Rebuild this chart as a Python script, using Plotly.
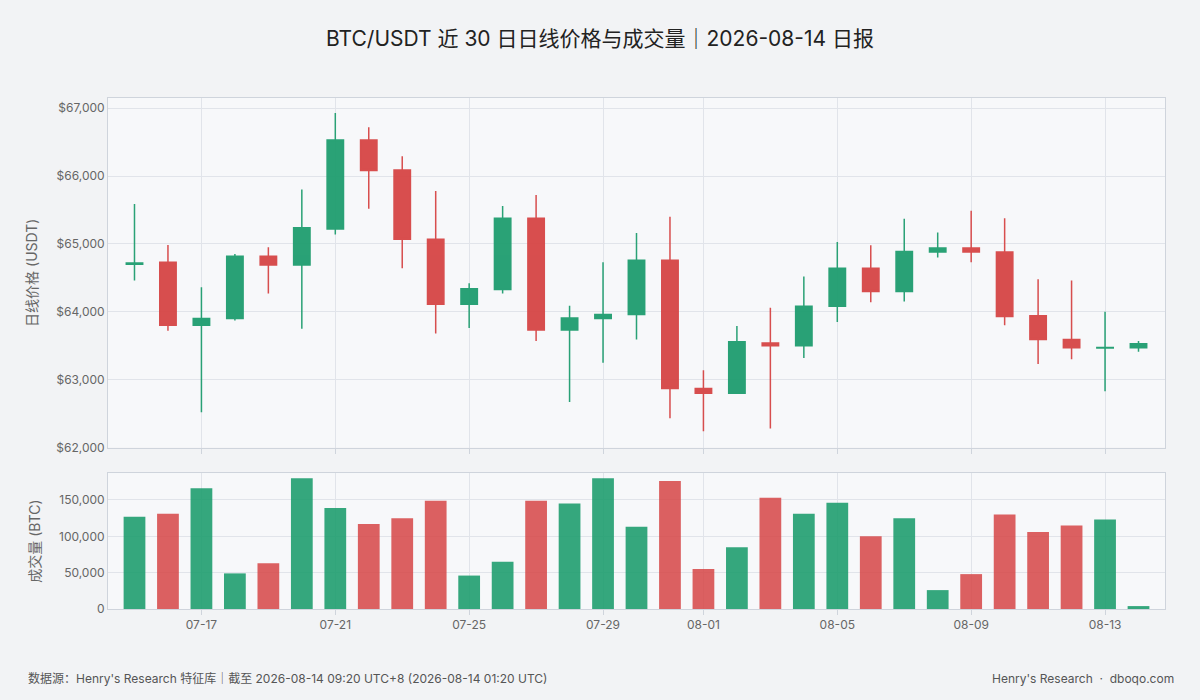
import pandas as pd
import plotly.graph_objects as go
from plotly.subplots import make_subplots

dates = pd.date_range("2026-07-15", "2026-08-14", freq="D")
opens = [64700, 64730, 63800, 63900, 64820, 64690, 65220, 66530, 66090, 65070, 64110, 64330, 65380, 63730, 63900, 63960,
         64760, 62870, 62800, 63540, 63500, 64080, 64640, 64300, 64880, 64940, 64880, 63940, 63590, 63465, 63470]
highs = [65590, 64985, 64360, 64850, 64950, 65800, 66930, 66720, 66290, 65780, 64420, 65560, 65720, 64090, 64730, 65160,
         65400, 63140, 63790, 64060, 64520, 65030, 64980, 65370, 65170, 65490, 65380, 64480, 64460, 64000, 63570]
lows = [64460, 63720, 62520, 63870, 64270, 63750, 65140, 65520, 64640, 63680, 63760, 64270, 63570, 62670, 63250, 63590,
        62430, 62240, 62800, 62280, 63320, 63850, 64140, 64150, 64800, 64730, 63800, 63230, 63300, 62830, 63410]
closes = [64720, 63800, 63900, 64820, 64690, 65240, 66530, 66080, 65070, 64110, 64340, 65380, 63730, 63910, 63960, 64760,
          62870, 62800, 63560, 63500, 64080, 64640, 64300, 64890, 64940, 64880, 63930, 63590, 63470, 63475, 63530]
volumes = [127000, 131000, 166000, 49000, 63000, 180000, 139000, 117000, 125000, 149000, 46000, 65000, 149000, 145000, 180000, 113000,
           176000, 55000, 85000, 153000, 131000, 146000, 100000, 125000, 26000, 48000, 130000, 106000, 115000, 123000, 4000]
tick_dates = ["2026-07-17", "2026-07-21", "2026-07-25", "2026-07-29", "2026-08-01", "2026-08-05", "2026-08-09", "2026-08-13"]

GREEN = "#1f9d6f"
RED = "#d64545"
vol_colors = ["rgba(31,157,111,0.9)" if c >= o else "rgba(214,69,69,0.85)" for o, c in zip(opens, closes)]

fig = make_subplots(rows=2, cols=1, shared_xaxes=True, row_heights=[0.72, 0.28], vertical_spacing=0.05)
fig.add_trace(go.Candlestick(x=dates, open=opens, high=highs, low=lows, close=closes,
                             increasing=dict(line=dict(color=GREEN, width=1.5), fillcolor=GREEN),
                             decreasing=dict(line=dict(color=RED, width=1.5), fillcolor=RED),
                             opacity=0.95, showlegend=False), row=1, col=1)
fig.add_trace(go.Bar(x=dates, y=volumes, marker=dict(color=vol_colors, line=dict(width=0)), width=0.65 * 86400000,
                     showlegend=False), row=2, col=1)

grid = "#e1e4ea"
fig.update_layout(
    width=1200, height=700,
    paper_bgcolor="#f2f3f5", plot_bgcolor="#f7f8fa",
    font=dict(family="Inter, Noto Sans CJK SC, sans-serif", color="#666", size=12),
    title=dict(text="BTC/USDT 近 30 日日线价格与成交量｜2026-08-14 日报", x=0.5, y=0.955,
               font=dict(size=21, color="#222")),
    margin=dict(l=108, r=35, t=98, b=91),
    xaxis_rangeslider_visible=False,
    annotations=[
        dict(text="数据源：Henry's Research 特征库｜截至 2026-08-14 09:20 UTC+8 (2026-08-14 01:20 UTC)",
             xref="paper", yref="paper", x=-0.078, y=-0.155, xanchor="left", showarrow=False,
             font=dict(size=12, color="#555")),
        dict(text="Henry's Research  ·  dboqo.com", xref="paper", yref="paper", x=1.01, y=-0.155,
             xanchor="right", showarrow=False, font=dict(size=12, color="#555")),
    ],
)
for r in (1, 2):
    fig.update_xaxes(row=r, col=1, showgrid=True, gridcolor=grid, showline=True, linecolor="#cfd4dc", mirror=True,
                     ticks="outside", tickcolor="#cfd4dc", tickformat="%m-%d", tickvals=tick_dates,
                     range=["2026-07-14 05:00", "2026-08-14 19:00"])
fig.update_xaxes(row=1, col=1, showticklabels=False)
fig.update_yaxes(row=1, col=1, title_text="日线价格 (USDT)", range=[62000, 67150], tickprefix="$", tickformat=",",
                 dtick=1000, gridcolor=grid, showline=True, linecolor="#cfd4dc", mirror=True, zeroline=False)
fig.update_yaxes(row=2, col=1, title_text="成交量 (BTC)", range=[0, 187000], tickformat=",", dtick=50000,
                 gridcolor=grid, showline=True, linecolor="#cfd4dc", mirror=True, zeroline=False)
fig.write_html("out.html", config={"displayModeBar": False}, post_script="document.body.style.margin='0';")
